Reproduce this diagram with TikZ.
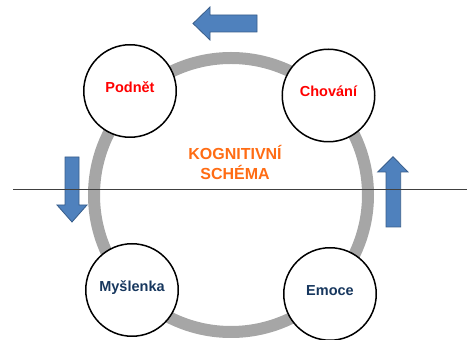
\documentclass[tikz,border=0pt]{standalone}
\usepackage{fontspec}
\setmainfont{Liberation Sans}
\usetikzlibrary{positioning}
\definecolor{kruhseda}{RGB}{166,166,166}
\definecolor{sipkamodra}{RGB}{79,129,189}
\definecolor{sipkaokraj}{RGB}{56,93,138}
\definecolor{tmavemodra}{RGB}{23,55,94}
\definecolor{oranzova}{RGB}{255,108,20}
\definecolor{cara}{RGB}{64,64,64}
\begin{document}
\begin{tikzpicture}[x=1pt,y=1pt,
		uzel/.style={draw=black, line width=1.5pt, circle, fill=white, minimum size=92.5pt, inner sep=0pt, font=\fontsize{14.5}{17}\selectfont\bfseries, text height=10.5pt, text depth=8pt},
		sipka/.style={fill=sipkamodra, draw=sipkaokraj, line width=0.8pt, line join=miter}]
			\useasboundingbox (0,0) rectangle (467,340);
			\draw[kruhseda, line width=12pt] (231,145) circle (137);
			\node (pod) [uzel, text=red] at (130,249) {Podnět};
			\node (cho) [uzel, text=red, node distance=198.5pt, right of=pod, yshift=-4.5pt] {Chování};
			\node (mys) [uzel, text=tmavemodra, node distance=199pt, below of=pod, xshift=2pt] {Myšlenka};
			\node (emo) [uzel, text=tmavemodra, node distance=198pt, right of=mys, yshift=-4pt] {Emoce};
			\node (schema) [align=center, text=oranzova, font=\fontsize{16}{20}\selectfont\bfseries] at (235,178) {KOGNITIVNÍ\\SCHÉMA};
			\draw[sipka] (193,316.5) -- (210,333) -- (210,325) -- (257,325) -- (257,308) -- (210,308) -- (210,300) -- cycle;
			\draw[sipka] (72,118) -- (57,135) -- (65,135) -- (65,183) -- (79,183) -- (79,135) -- (87,135) -- cycle;
			\draw[sipka] (393,183.3) -- (408,168) -- (400.7,168) -- (400.7,113) -- (386,113) -- (386,168) -- (377.7,168) -- cycle;
			\draw[cara, line width=1pt] (13,150) -- (467,150);
		\end{tikzpicture}
\end{document}
